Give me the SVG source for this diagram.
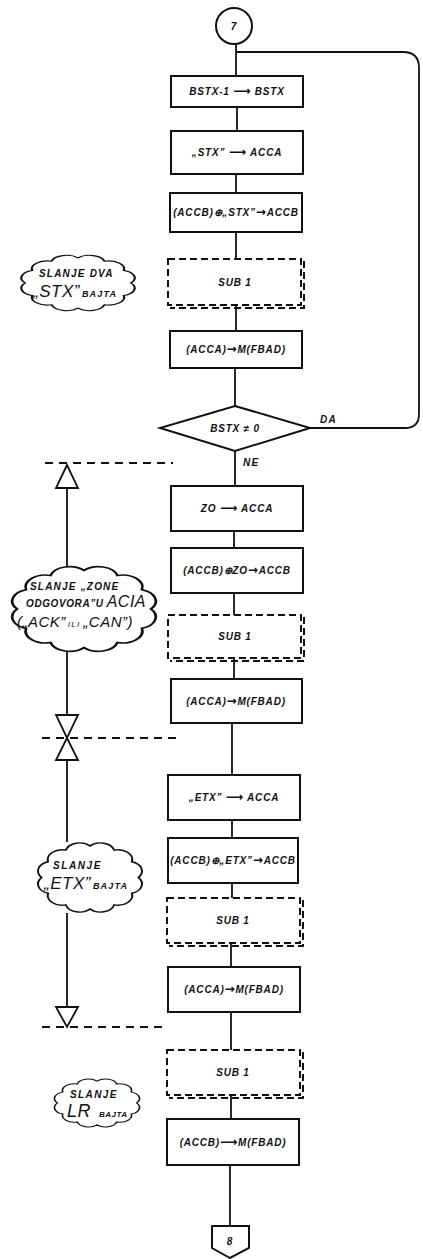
<svg xmlns="http://www.w3.org/2000/svg" width="423" height="1259" viewBox="0 0 423 1259">
<style>
.bx{fill:none;stroke:#111;stroke-width:2}
.ds{fill:none;stroke:#111;stroke-width:2;stroke-dasharray:7 4}
.ln{fill:none;stroke:#111;stroke-width:1.8}
.dl{fill:none;stroke:#111;stroke-width:1.8;stroke-dasharray:8 6}
.tri{fill:#fff;stroke:#111;stroke-width:1.8}
.cl{fill:#fff;stroke:#111;stroke-width:1.8;vector-effect:non-scaling-stroke}
text{font-family:"Liberation Sans",Arial,sans-serif;font-weight:bold;font-style:italic;fill:#111}
.t{font-size:10px;text-anchor:middle;letter-spacing:0.8px}
.s{font-size:10px;letter-spacing:1.2px}
.b{font-size:15px;font-weight:normal;letter-spacing:0.5px}
.ar{font-family:"DejaVu Sans",sans-serif;font-style:normal;font-size:12px}
</style>
<defs>
<path id="cloud" d="M94,50 A13,13 0 0 1 88.1,71 A13,13 0 0 1 72,86.4 A13,13 0 0 1 50,92 A13,13 0 0 1 28,86.4 A13,13 0 0 1 11.9,71 A13,13 0 0 1 6,50 A13,13 0 0 1 11.9,29 A13,13 0 0 1 28,13.6 A13,13 0 0 1 50,8 A13,13 0 0 1 72,13.6 A13,13 0 0 1 88.1,29 A13,13 0 0 1 94,50 Z"/>
</defs>
<rect width="423" height="1259" fill="#fff"/>

<g id="connectors">
<path class="ln" d="M236,44 V76"/>
<path class="ln" d="M236,52 H403 Q419,52 419,68 V414 Q419,428 405,428 H310"/>
<path class="ln" d="M237,107 V131"/>
<path class="ln" d="M236,174 V193"/>
<path class="ln" d="M236,232 V259"/>
<path class="ln" d="M236,305 V331"/>
<path class="ln" d="M235,368 V406"/>
<path class="ln" d="M235,451 V486"/>
<path class="ln" d="M234,531 V548"/>
<path class="ln" d="M234,593 V615"/>
<path class="ln" d="M234,658 V679"/>
<path class="ln" d="M232,723 V775"/>
<path class="ln" d="M232,820 V838"/>
<path class="ln" d="M232,883 V898"/>
<path class="ln" d="M231,943 V967"/>
<path class="ln" d="M231,1012 V1050"/>
<path class="ln" d="M231,1095 V1119"/>
<path class="ln" d="M230,1165 V1226"/>
<text x="320" y="423" class="s">DA</text>
<text x="243" y="466" class="s">NE</text>
</g>

<g id="annotations">
<path class="dl" d="M45,463 H173"/>
<path class="dl" d="M42,738 H177"/>
<path class="dl" d="M42,1027 H168"/>
<path class="ln" d="M67,488 V570 M67,652 V715 M67,760 V842 M67,913 V1007"/>
<polygon class="tri" points="67,465 56,488 78,488"/>
<polygon class="tri" points="56,715 78,715 67,738"/>
<polygon class="tri" points="67,738 56,760 78,760"/>
<polygon class="tri" points="56,1007 78,1007 67,1027"/>
</g>

<g id="start">
<circle cx="234" cy="26" r="18" class="bx"/>
<text x="234" y="30" class="t">7</text>
</g>

<g id="n1"><rect x="171" y="76" width="132" height="31" class="bx"/><text x="237" y="95" class="t">BSTX-1 <tspan class="ar">⟶</tspan> BSTX</text></g>
<g id="n2"><rect x="171" y="131" width="132" height="43" class="bx"/><text x="237" y="156" class="t">„STX” <tspan class="ar">⟶</tspan> ACCA</text></g>
<g id="n3"><rect x="170" y="193" width="132" height="39" class="bx"/><text x="236" y="216" class="t">(ACCB)⊕„STX”<tspan class="ar">→</tspan>ACCB</text></g>
<g id="n4"><rect x="168" y="259" width="133" height="46" class="ds"/><path class="ds" d="M304,261 V308 H170"/><text x="235" y="286" class="t">SUB 1</text></g>
<g id="n5"><rect x="170" y="331" width="132" height="37" class="bx"/><text x="236" y="353" class="t">(ACCA)<tspan class="ar">→</tspan>M(FBAD)</text></g>
<g id="d1"><polygon points="235,406 310,428 235,451 160,428" class="bx"/><text x="235" y="432" class="t">BSTX ≠ 0</text></g>
<g id="n6"><rect x="171" y="486" width="132" height="45" class="bx"/><text x="237" y="512" class="t">ZO  <tspan class="ar">⟶</tspan> ACCA</text></g>
<g id="n7"><rect x="171" y="548" width="132" height="45" class="bx"/><text x="237" y="574" class="t">(ACCB)⊕ZO<tspan class="ar">→</tspan>ACCB</text></g>
<g id="n8"><rect x="168" y="615" width="133" height="43" class="ds"/><path class="ds" d="M304,617 V661 H170"/><text x="235" y="640" class="t">SUB 1</text></g>
<g id="n9"><rect x="171" y="679" width="131" height="44" class="bx"/><text x="236" y="705" class="t">(ACCA)<tspan class="ar">→</tspan>M(FBAD)</text></g>
<g id="n10"><rect x="168" y="775" width="132" height="45" class="bx"/><text x="234" y="801" class="t">„ETX” <tspan class="ar">⟶</tspan> ACCA</text></g>
<g id="n11"><rect x="168" y="838" width="130" height="45" class="bx"/><text x="233" y="864" class="t">(ACCB)⊕„ETX”<tspan class="ar">→</tspan>ACCB</text></g>
<g id="n12"><rect x="167" y="898" width="133" height="45" class="ds"/><path class="ds" d="M303,900 V946 H169"/><text x="233" y="924" class="t">SUB 1</text></g>
<g id="n13"><rect x="168" y="967" width="132" height="45" class="bx"/><text x="234" y="993" class="t">(ACCA)<tspan class="ar">→</tspan>M(FBAD)</text></g>
<g id="n14"><rect x="167" y="1050" width="133" height="45" class="ds"/><path class="ds" d="M303,1052 V1098 H169"/><text x="233" y="1076" class="t">SUB 1</text></g>
<g id="n15"><rect x="167" y="1119" width="132" height="46" class="bx"/><text x="233" y="1146" class="t">(ACCB)<tspan class="ar">⟶</tspan>M(FBAD)</text></g>

<g id="end">
<polygon points="212,1226 249,1226 249,1248 230,1258 212,1248" class="bx"/>
<text x="230" y="1245" class="t">8</text>
</g>

<g id="c1">
<use href="#cloud" class="cl" transform="translate(18,253) scale(1.2,0.6)"/>
<text x="39" y="277" class="s">SLANJE DVA</text>
<text x="33" y="297"><tspan class="b" style="font-size:17px">„STX”</tspan><tspan class="s" dx="2" style="font-size:9px">BAJTA</tspan></text>
</g>
<g id="c2">
<use href="#cloud" class="cl" transform="translate(8,563) scale(1.52,0.92)"/>
<text x="30" y="590" class="s">SLANJE „ZONE</text>
<text x="26" y="607"><tspan class="s" style="letter-spacing:0.6px">ODGOVORA”U</tspan><tspan class="b" dx="3" style="font-size:16px">ACIA</tspan></text>
<text x="17" y="627" class="b">(„ACK”<tspan class="s" dx="2" style="font-size:8px">ILI</tspan><tspan dx="3">„CAN”)</tspan></text>
</g>
<g id="c3">
<use href="#cloud" class="cl" transform="translate(35,840) scale(1.1,0.75)"/>
<text x="53" y="869" class="s" style="letter-spacing:1.6px">SLANJE</text>
<text x="44" y="889"><tspan class="b" style="font-size:17px">„ETX”</tspan><tspan class="s" dx="2" style="font-size:9px">BAJTA</tspan></text>
</g>
<g id="c4">
<use href="#cloud" class="cl" transform="translate(52,1077) scale(0.9,0.52)"/>
<text x="70" y="1098" class="s" style="letter-spacing:1.4px">SLANJE</text>
<text x="67" y="1117"><tspan class="b" style="font-size:18px">LR</tspan><tspan class="s" dx="8" style="font-size:8px;letter-spacing:0.5px">BAJTA</tspan></text>
</g>
</svg>
